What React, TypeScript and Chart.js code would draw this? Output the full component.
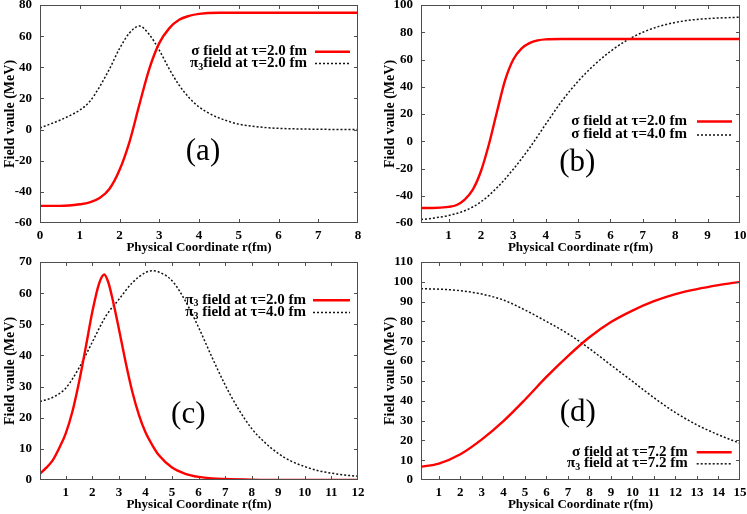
import React, { useEffect, useRef } from 'react';
import { Chart, registerables } from 'chart.js';

Chart.register(...registerables);

const SERIF = '"Liberation Serif", "Times New Roman", serif';
const RED = '#ff0000';
const BLACK = '#111111';

// ---------- Panel (a) ----------
const A_X_TICKS = [0, 1, 2, 3, 4, 5, 6, 7, 8];
const A_Y_TICKS = [-60, -40, -20, 0, 20, 40, 60, 80];
const A_SIGMA_R = [0, 0.5, 1.0, 1.25, 1.5, 1.75, 2.0, 2.25, 2.5, 2.75, 3.0, 3.25, 3.5, 3.75, 4.0, 4.5, 5, 6, 7, 8];
const A_SIGMA = [-49, -49, -48, -46.8, -44, -38, -26, -8, 16, 39, 55.5, 65, 70.5, 73, 74.3, 75, 75, 75, 75, 75];
const A_PI_R = [0, 0.25, 0.5, 0.75, 1.0, 1.25, 1.5, 1.75, 2.0, 2.25, 2.5, 2.75, 3.0, 3.25, 3.5, 3.75, 4.0, 4.25, 4.5, 5, 5.5, 6, 7, 8];
const A_PI = [1, 3.5, 6, 9, 12.5, 18, 27.5, 39, 52, 62, 66.5, 61, 51, 39, 28.5, 20.5, 14.5, 10.5, 7.5, 3.5, 1.7, 0.8, 0.2, 0];
const A_LABELS = ['σ field at τ=2.0 fm', 'π_3field at τ=2.0 fm'];

// ---------- Panel (b) ----------
const B_X_TICKS = [1, 2, 3, 4, 5, 6, 7, 8, 9, 10];
const B_Y_TICKS = [-60, -40, -20, 0, 20, 40, 60, 80, 100];
const B_S2_R = [0.15, 0.5, 1.0, 1.25, 1.5, 1.75, 2.0, 2.25, 2.5, 2.75, 3.0, 3.25, 3.5, 3.75, 4.0, 4.5, 5, 6, 7, 8, 9, 10];
const B_S2 = [-49, -49, -48.2, -46.8, -42.8, -35.5, -22, -2, 22, 45, 60, 68, 72, 74, 74.8, 75, 75, 75, 75, 75, 75, 75];
const B_S4_R = [0.15, 0.5, 1, 1.5, 2, 2.5, 3, 3.5, 4, 4.5, 5, 5.5, 6, 6.5, 7, 7.5, 8, 8.5, 9, 9.5, 10];
const B_S4 = [-57.5, -56.5, -54.5, -51, -44.5, -34, -20.5, -5, 12.5, 29.5, 44, 56, 66, 74, 80, 84.3, 87.2, 89, 90, 90.6, 91];
const B_LABELS = ['σ field at τ=2.0 fm', 'σ field at τ=4.0 fm'];

// ---------- Panel (c) ----------
const C_X_TICKS = [1, 2, 3, 4, 5, 6, 7, 8, 9, 10, 11, 12];
const C_Y_TICKS = [0, 10, 20, 30, 40, 50, 60, 70];
const C_P2_R = [0.03, 0.25, 0.5, 0.75, 1.0, 1.25, 1.5, 1.75, 2.0, 2.25, 2.45, 2.6, 2.75, 3.0, 3.25, 3.5, 3.75, 4.0, 4.25, 4.5, 5.0, 5.5, 6, 6.5, 7, 8, 9, 10, 11, 12];
const C_P2 = [2, 3.8, 6.2, 10.2, 15, 22, 31.5, 42.5, 54, 63, 66, 63.5, 58.5, 48.5, 38, 28.5, 21, 15.3, 11.3, 8, 4, 2, 1, 0.5, 0.3, 0.1, 0, 0, 0, 0];
const C_P4_R = [0.03, 0.5, 1, 1.5, 2, 2.5, 3, 3.5, 4, 4.25, 4.5, 5, 5.5, 6, 6.5, 7, 7.5, 8, 8.5, 9, 9.5, 10, 10.5, 11, 11.5, 12];
const C_P4 = [25.2, 26.5, 29.5, 36, 44.3, 52.5, 58, 63.3, 66.6, 67.2, 66.8, 64, 57.5, 49, 39.5, 30.5, 22.8, 16.5, 12, 8.5, 6, 4.3, 3, 2.2, 1.6, 1.2];
const C_LABELS = ['π_3 field at τ=2.0 fm', 'π_3 field at τ=4.0 fm'];

// ---------- Panel (d) ----------
const D_X_TICKS = [1, 2, 3, 4, 5, 6, 7, 8, 9, 10, 11, 12, 13, 14, 15];
const D_Y_TICKS = [0, 10, 20, 30, 40, 50, 60, 70, 80, 90, 100, 110];
const D_R = [0.17, 1, 2, 3, 4, 5, 6, 7, 8, 9, 10, 11, 12, 13, 14, 15];
const D_SIGMA = [6.7, 8.3, 13, 20.5, 29.7, 40.5, 52, 62.5, 72, 79.7, 85.5, 90.2, 93.8, 96.3, 98.3, 100];
const D_PI = [96.5, 96.3, 95.5, 93.8, 90.8, 85.8, 80, 73.8, 66.3, 58, 49.8, 41.5, 34, 27.8, 22.8, 18.5];
const D_LABELS = ['σ field at τ=7.2 fm', 'π_3 field at τ=7.2 fm'];

const X_TITLE = 'Physical Coordinate r(fm)';
const Y_TITLE = 'Field vaule (MeV)';

type Series = { xs: number[]; ys: number[]; color: string; width: number; dash: number[]; label: string };
type PanelCfg = {
  left: number; top: number; width: number; height: number;
  areaLeft: number; areaRight: number; areaTop: number; areaBottom: number;
  xMin: number; xMax: number; xTicks: number[];
  yMin: number; yMax: number; yTicks: number[];
  series: Series[];
  legend: { textRight: number; lineStart: number; lineEnd: number; rows: number[] };
  panelLabel: { text: string; x: number; y: number };
  yTitlePad: number;
};

const solid = (xs: number[], ys: number[], label: string): Series => ({ xs, ys, label, color: RED, width: 2.4, dash: [] });
const dotted = (xs: number[], ys: number[], label: string): Series => ({ xs, ys, label, color: BLACK, width: 1.5, dash: [2, 2] });

const PANELS: PanelCfg[] = [
  {
    left: 0, top: 0, width: 374, height: 257,
    areaLeft: 40, areaRight: 358, areaTop: 5, areaBottom: 223,
    xMin: 0, xMax: 8, xTicks: A_X_TICKS, yMin: -60, yMax: 80, yTicks: A_Y_TICKS,
    series: [solid(A_SIGMA_R, A_SIGMA, A_LABELS[0]), dotted(A_PI_R, A_PI, A_LABELS[1])],
    legend: { textRight: 307, lineStart: 315, lineEnd: 350, rows: [51.3, 63] },
    panelLabel: { text: '(a)', x: 203, y: 152 },
    yTitlePad: 2,
  },
  {
    left: 374, top: 0, width: 373, height: 257,
    areaLeft: 47, areaRight: 366, areaTop: 5, areaBottom: 223,
    xMin: 0.15, xMax: 10, xTicks: B_X_TICKS, yMin: -60, yMax: 100, yTicks: B_Y_TICKS,
    series: [solid(B_S2_R, B_S2, B_LABELS[0]), dotted(B_S4_R, B_S4, B_LABELS[1])],
    legend: { textRight: 313, lineStart: 323, lineEnd: 358, rows: [121, 134.5] },
    panelLabel: { text: '(b)', x: 203.3, y: 163.3 },
    yTitlePad: 7.6,
  },
  {
    left: 0, top: 257, width: 374, height: 257,
    areaLeft: 40, areaRight: 358, areaTop: 5, areaBottom: 223,
    xMin: 0.03, xMax: 12, xTicks: C_X_TICKS, yMin: 0, yMax: 70, yTicks: C_Y_TICKS,
    series: [solid(C_P2_R, C_P2, C_LABELS[0]), dotted(C_P4_R, C_P4, C_LABELS[1])],
    legend: { textRight: 306, lineStart: 313, lineEnd: 350, rows: [42.7, 55] },
    panelLabel: { text: '(c)', x: 188.3, y: 157.5 },
    yTitlePad: 2,
  },
  {
    left: 374, top: 257, width: 373, height: 257,
    areaLeft: 47, areaRight: 366, areaTop: 5, areaBottom: 223,
    xMin: 0.17, xMax: 15, xTicks: D_X_TICKS, yMin: 0, yMax: 110, yTicks: D_Y_TICKS,
    series: [solid(D_R, D_SIGMA, D_LABELS[0]), dotted(D_R, D_PI, D_LABELS[1])],
    legend: { textRight: 313.7, lineStart: 322.7, lineEnd: 357.7, rows: [194.7, 206.3] },
    panelLabel: { text: '(d)', x: 203.7, y: 156.3 },
    yTitlePad: 7.6,
  },
];

function parseRich(text: string): { t: string; sub: boolean }[] {
  const out: { t: string; sub: boolean }[] = [];
  let buf = '';
  for (let i = 0; i < text.length; i++) {
    if (text[i] === '_' && i + 1 < text.length) {
      if (buf) out.push({ t: buf, sub: false });
      buf = '';
      out.push({ t: text[i + 1], sub: true });
      i++;
    } else buf += text[i];
  }
  if (buf) out.push({ t: buf, sub: false });
  return out;
}

const gnuPlugin = {
  id: 'gnu',
  afterDatasetsDraw(chart: any, _args: any, opts: any) {
    const { ctx, chartArea: a, scales } = chart;
    const xs = scales.x;
    const ys = scales.y;
    ctx.save();
    // frame
    ctx.strokeStyle = '#4d4d4d';
    ctx.lineWidth = 1;
    ctx.setLineDash([]);
    ctx.strokeRect(a.left + 0.5, a.top + 0.5, a.right - a.left - 1, a.bottom - a.top - 1);
    // inward ticks (mirrored)
    const TL = 4;
    ctx.beginPath();
    xs.ticks.forEach((t: any) => {
      const p = Math.round(xs.getPixelForValue(t.value)) + 0.5;
      if (p <= a.left + 1 || p >= a.right - 1) return;
      ctx.moveTo(p, a.bottom);
      ctx.lineTo(p, a.bottom - TL);
      ctx.moveTo(p, a.top);
      ctx.lineTo(p, a.top + TL);
    });
    ys.ticks.forEach((t: any) => {
      const p = Math.round(ys.getPixelForValue(t.value)) + 0.5;
      if (p <= a.top + 1 || p >= a.bottom - 1) return;
      ctx.moveTo(a.left, p);
      ctx.lineTo(a.left + TL, p);
      ctx.moveTo(a.right, p);
      ctx.lineTo(a.right - TL, p);
    });
    ctx.stroke();

    // legend
    const lg = opts.legend;
    const font = `bold 15px ${SERIF}`;
    const subFont = `bold 10px ${SERIF}`;
    ctx.textBaseline = 'middle';
    ctx.fillStyle = '#000';
    chart.data.datasets.forEach((ds: any, i: number) => {
      const y = lg.rows[i];
      const parts = parseRich(ds.label);
      let total = 0;
      const widths = parts.map((p) => {
        ctx.font = p.sub ? subFont : font;
        const w = ctx.measureText(p.t).width;
        total += w;
        return w;
      });
      let x = lg.textRight - total;
      ctx.textAlign = 'left';
      parts.forEach((p, k) => {
        ctx.font = p.sub ? subFont : font;
        ctx.fillText(p.t, x, p.sub ? y + 4 : y);
        x += widths[k];
      });
      ctx.beginPath();
      ctx.strokeStyle = ds.borderColor;
      ctx.lineWidth = ds.borderWidth;
      ctx.setLineDash(ds.borderDash || []);
      ctx.moveTo(lg.lineStart, y + 0.5);
      ctx.lineTo(lg.lineEnd, y + 0.5);
      ctx.stroke();
      ctx.setLineDash([]);
    });

    // panel label
    const pl = opts.panelLabel;
    ctx.font = `31px ${SERIF}`;
    ctx.textAlign = 'center';
    ctx.textBaseline = 'middle';
    ctx.fillStyle = '#000';
    ctx.fillText(pl.text, pl.x, pl.y);
    ctx.restore();
  },
};

function Panel({ cfg }: { cfg: PanelCfg }) {
  const ref = useRef<HTMLCanvasElement | null>(null);
  useEffect(() => {
    if (!ref.current) return;
    const tickFont = { family: SERIF, size: 13, weight: 'bold' as const };
    const chart = new Chart(ref.current, {
      type: 'line',
      data: {
        datasets: cfg.series.map((s) => ({
          label: s.label,
          data: s.xs.map((x, i) => ({ x, y: s.ys[i] })),
          borderColor: s.color,
          backgroundColor: s.color,
          borderWidth: s.width,
          borderDash: s.dash,
          pointRadius: 0,
          fill: false,
          cubicInterpolationMode: 'monotone' as const,
        })),
      },
      options: {
        animation: false,
        responsive: false,
        devicePixelRatio: 1,
        layout: { padding: { left: 0, top: cfg.areaTop, right: cfg.width - cfg.areaRight, bottom: 0 } },
        plugins: {
          legend: { display: false },
          tooltip: { enabled: false },
          gnu: { legend: cfg.legend, panelLabel: cfg.panelLabel },
        } as any,
        scales: {
          x: {
            type: 'linear',
            min: cfg.xMin,
            max: cfg.xMax,
            grid: { display: false, drawTicks: false },
            border: { display: false },
            afterBuildTicks: (s: any) => {
              s.ticks = cfg.xTicks.map((v) => ({ value: v }));
            },
            afterFit: (s: any) => {
              s.height = cfg.height - cfg.areaBottom;
              s.paddingLeft = 0;
              s.paddingRight = 0;
            },
            ticks: {
              font: tickFont,
              color: '#000',
              padding: 5,
              maxRotation: 0,
              autoSkip: false,
              callback: (v: any) => String(v),
            },
            title: {
              display: true,
              text: X_TITLE,
              font: { family: SERIF, size: 13, weight: 'bold' },
              color: '#000',
              padding: { top: 0, bottom: 2 },
            },
          },
          y: {
            type: 'linear',
            min: cfg.yMin,
            max: cfg.yMax,
            grid: { display: false, drawTicks: false },
            border: { display: false },
            afterBuildTicks: (s: any) => {
              s.ticks = cfg.yTicks.map((v) => ({ value: v }));
            },
            afterFit: (s: any) => {
              s.width = cfg.areaLeft;
              s.paddingTop = 0;
              s.paddingBottom = 0;
            },
            ticks: {
              font: tickFont,
              color: '#000',
              padding: 8,
              autoSkip: false,
              callback: (v: any) => String(v),
            },
            title: {
              display: true,
              text: Y_TITLE,
              font: { family: SERIF, size: 14, weight: 'bold' },
              color: '#000',
              padding: { top: cfg.yTitlePad, bottom: 0 },
            },
          },
        },
      },
      plugins: [gnuPlugin as any],
    });
    return () => chart.destroy();
  }, [cfg]);
  return (
    <canvas
      ref={ref}
      width={cfg.width}
      height={cfg.height}
      style={{ position: 'absolute', left: cfg.left, top: cfg.top, width: cfg.width, height: cfg.height, display: 'block' }}
    />
  );
}

export default function App() {
  return (
    <div style={{ position: 'absolute', left: 0, top: 0, width: 747, height: 514, background: '#fff' }}>
      {PANELS.map((p, i) => (
        <Panel key={i} cfg={p} />
      ))}
    </div>
  );
}
